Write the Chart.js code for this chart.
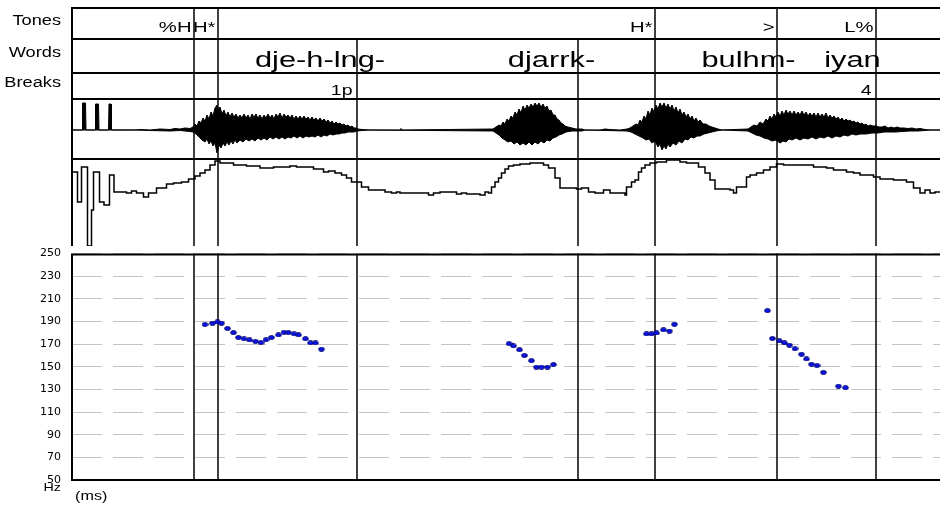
<!DOCTYPE html>
<html><head><meta charset="utf-8">
<script src="https://cdn.jsdelivr.net/npm/chart.js@4.4.1/dist/chart.umd.min.js"></script>
<style>
html,body{margin:0;padding:0;background:#fff;}
#wrap{position:relative;width:940px;height:505px;overflow:hidden;background:#fff;}
canvas{position:absolute;left:0;}
</style></head><body>
<div id="wrap">
<canvas id="cInt" width="940" height="88" style="top:158px;width:940px;height:88px"></canvas>
<canvas id="cWave" width="940" height="60" style="top:98px;width:940px;height:60px"></canvas>
<canvas id="cBreaks" width="940" height="26" style="top:72px;width:940px;height:26px"></canvas>
<canvas id="cWords" width="940" height="34" style="top:38px;width:940px;height:34px"></canvas>
<canvas id="cTones" width="940" height="31" style="top:7px;width:940px;height:31px"></canvas>
<canvas id="cPitch" width="940" height="269" style="top:236px;width:940px;height:269px"></canvas>
</div>
<script>
// ---------- data (time in ms) ----------
const timeMin = 144, timeMax = 1880;
const tierNames = ['Tones', 'Words', 'Breaks'];
const toneTimes = [388, 436, 1310, 1554, 1752];
const toneLabels = ['%H', 'H*', 'H*', '>', 'L%'];
const wordBoundaryTimes = [714, 1156];
const wordTimes = [640, 1103, 1497, 1705];
const wordLabels = ['dje-h-lng-', 'djarrk-', 'bulhm-', 'iyan'];
const breakTimes = [714, 1752];
const breakLabels = ['1p', '4'];
const pitchTicks = [50, 70, 90, 110, 130, 150, 170, 190, 210, 230, 250];

// waveform envelope (amplitude, arbitrary units)
const waveUpper = [[144,0],[164,0],[165,27],[171,27],[172,0],[190,0],[191,26],[197,26],[198,0],[217,0],[218,26],[222,26],[223,0],
[270,0],[280,0.5],[300,0],[320,1],[340,0.5],[350,1.5],[360,1],[370,2],[380,1.5],
[386,3],[390,6],[394,4],[398,9],[402,7],[406,12],[410,9],[414,15],[418,11],[422,18],[426,14],[430,22],[434,25],[436,20],[440,23],[444,16],[448,20],[452,14],[456,18],[460,13],[464,17],[468,13],[472,16],[476,12],[480,15],[484,12],[488,16],[492,12],[496,15],[500,11],[504,16],[508,13],[512,16],[516,12],[520,15],[524,11],[528,15],[532,12],[536,16],[540,12],[544,15],[548,11],[552,16],[556,13],[560,17],[564,12],[568,16],[572,13],[576,15],[580,12],[584,15],[588,11],[592,14],[596,11],[600,14],[604,11],[608,14],[612,11],[616,13],[620,10],[624,13],[628,10],[632,12],[636,9],[640,12],[644,9],[648,11],[652,8],[656,10],[660,7],[664,9],[668,6],[672,8],[676,6],[680,7],[684,5],[688,6],[692,4],[696,5],[700,3],[704,4],[708,2],[712,2],[716,1],[724,0.5],[740,0],
[800,0],[802,1.5],[804,0],
[986,1],[992,3],[998,5],[1002,4],[1006,8],[1010,6],[1014,11],[1018,9],[1022,14],[1026,12],[1030,18],[1034,15],[1038,21],[1042,17],[1046,24],[1050,20],[1054,25],[1058,22],[1062,26],[1066,23],[1070,27],[1074,24],[1078,27],[1082,23],[1086,26],[1090,22],[1094,24],[1098,19],[1102,20],[1106,15],[1110,15],[1114,11],[1118,10],[1122,7],[1126,6],[1130,4],[1136,3],[1144,2],[1152,1],[1164,1],[1170,0],
[1200,0],[1210,1],[1220,0.5],[1240,0],
[1254,1],[1260,2],[1266,4],[1272,6],[1276,5],[1280,10],[1284,8],[1288,14],[1292,11],[1296,19],[1300,15],[1304,22],[1308,18],[1312,25],[1316,21],[1320,27],[1324,23],[1328,27],[1332,22],[1336,26],[1340,21],[1344,25],[1348,19],[1352,23],[1356,17],[1360,21],[1364,15],[1368,18],[1372,13],[1376,16],[1380,11],[1384,14],[1388,9],[1392,12],[1396,8],[1400,10],[1406,6],[1412,6],[1418,4],[1424,3],[1430,2],[1436,1],[1444,0],
[1496,1],[1502,3],[1508,5],[1514,4],[1520,8],[1526,6],[1532,11],[1536,9],[1540,14],[1544,11],[1548,16],[1552,13],[1556,18],[1560,14],[1564,19],[1568,15],[1572,20],[1576,16],[1580,19],[1584,15],[1588,19],[1592,15],[1596,18],[1600,15],[1604,19],[1608,15],[1612,18],[1616,14],[1620,17],[1624,14],[1628,17],[1632,13],[1636,17],[1640,13],[1644,16],[1648,13],[1652,17],[1656,12],[1660,15],[1664,12],[1668,14],[1672,11],[1676,13],[1680,10],[1684,12],[1688,9],[1692,11],[1696,9],[1700,10],[1704,8],[1708,9],[1712,7],[1716,8],[1720,6],[1724,7],[1728,5],[1732,6],[1736,4],[1740,5],[1746,4],[1752,4],[1758,3],[1764,3],[1770,4],[1776,2],[1782,3],[1788,2],[1794,3],[1800,2],[1808,2],[1816,1.5],[1824,2],[1832,1],[1840,1.5],[1850,0.5],[1860,0],[1880,0]];
const waveLower = [[144,0],[270,0],[300,-0.5],[340,-1],[360,-0.5],[380,-1.5],
[386,-2],[392,-4],[398,-7],[404,-10],[410,-12],[414,-9],[418,-14],[422,-11],[426,-16],[430,-13],[434,-23],[438,-15],[442,-18],[446,-13],[450,-16],[454,-12],[458,-15],[462,-11],[466,-14],[470,-10],[474,-13],[480,-10],[486,-12],[492,-9],[498,-11],[504,-9],[510,-11],[516,-8],[522,-10],[528,-8],[534,-10],[540,-7],[546,-9],[552,-7],[558,-9],[564,-7],[570,-9],[576,-7],[582,-8],[588,-6],[594,-8],[600,-6],[606,-8],[612,-6],[618,-7],[624,-6],[630,-7],[636,-5],[642,-7],[648,-5],[654,-6],[660,-4],[666,-5],[672,-4],[678,-4],[684,-3],[690,-3],[696,-2],[702,-2],[708,-2],[714,-1],[724,-0.5],[740,0],
[986,-1],[992,-3],[998,-5],[1004,-8],[1010,-10],[1016,-12],[1022,-11],[1028,-14],[1034,-12],[1040,-15],[1046,-13],[1052,-15],[1058,-12],[1064,-15],[1070,-12],[1076,-14],[1082,-11],[1088,-13],[1094,-10],[1100,-11],[1106,-8],[1112,-7],[1118,-5],[1124,-4],[1132,-2],[1144,-1],[1164,-1],[1170,0],
[1254,-1],[1262,-2],[1270,-4],[1278,-6],[1286,-8],[1292,-10],[1298,-9],[1304,-13],[1310,-11],[1316,-17],[1320,-14],[1324,-20],[1328,-16],[1332,-19],[1336,-14],[1340,-17],[1346,-13],[1352,-15],[1358,-11],[1364,-13],[1370,-9],[1376,-10],[1382,-7],[1388,-8],[1394,-6],[1400,-6],[1408,-4],[1416,-3],[1424,-2],[1432,-1],[1444,0],
[1496,-1],[1504,-3],[1512,-5],[1520,-6],[1528,-8],[1536,-9],[1544,-11],[1552,-10],[1560,-13],[1566,-11],[1572,-12],[1578,-9],[1584,-10],[1592,-8],[1600,-10],[1608,-8],[1616,-9],[1624,-7],[1632,-9],[1640,-7],[1648,-8],[1656,-6],[1664,-8],[1672,-6],[1680,-7],[1688,-5],[1696,-6],[1704,-4],[1712,-5],[1720,-4],[1732,-4],[1744,-3],[1756,-3],[1768,-2],[1780,-2],[1792,-2],[1804,-1.5],[1820,-1],[1836,-1],[1850,-0.5],[1860,0],[1880,0]];

// intensity contour (relative dB)
const intensity = [[144,74],[155,44],[163,79],[175,0],[183,36],[187,74],[199,44],[208,41],[219,71],[228,54],[253,53],[263,55],[273,53],[287,49],[297,53],[313,58],[333,62],[347,63],[363,64],[377,67],[390,70],[400,73],[410,76],[420,81],[430,85],[440,83],[467,81],[493,80],[520,78],[547,79],[580,80],[593,79],[627,77],[647,74],[657,75],[670,73],[683,71],[693,68],[703,64],[723,59],[737,56],[770,54],[783,53],[793,54],[800,53],[813,53],[827,53],[857,51],[867,53],[880,54],[913,52],[923,53],[933,52],[960,51],[970,54],[977,53],[983,59],[990,64],[997,68],[1003,73],[1010,77],[1017,80],[1027,81],[1040,82],[1060,83],[1087,81],[1097,78],[1110,68],[1120,58],[1153,57],[1163,58],[1177,54],[1190,53],[1207,56],[1220,53],[1250,51],[1253,59],[1263,64],[1270,66],[1277,74],[1283,78],[1290,81],[1300,83],[1313,84],[1333,86],[1360,84],[1373,83],[1397,79],[1410,73],[1420,66],[1430,57],[1460,56],[1467,53],[1473,59],[1493,69],[1500,71],[1513,73],[1527,76],[1540,79],[1553,82],[1567,81],[1627,79],[1640,79],[1653,78],[1667,76],[1693,74],[1707,73],[1720,71],[1747,69],[1760,67],[1787,66],[1813,64],[1827,58],[1840,53],[1850,56],[1860,53],[1870,54],[1880,54]];

// F0 (Hz)
const pitchHz = [[410,187.4],[425,188.5],[435,189.6],[443,188.5],[455,183.9],[467,180.2],[477,175.9],[488,174.8],[499,173.7],[511,172.5],[522,171.4],[532,173.9],[543,175.9],[557,178.2],[568,180.5],[577,180.2],[588,179.1],[597,178.2],[611,174.8],[621,171.1],[631,171.1],[643,165.6],
[1018,170.5],[1027,168.5],[1039,165.1],[1049,160.0],[1063,155.4],[1073,149.7],[1083,149.7],[1095,149.7],[1107,152.0],
[1293,179.1],[1303,179.1],[1313,179.9],[1327,182.7],[1339,181.6],[1349,187.6],
[1535,199.6],[1545,175.0],[1559,172.8],[1569,171.1],[1579,169.1],[1590,166.0],[1603,161.1],[1613,156.9],[1623,152.3],[1634,151.1],[1647,145.1],[1677,132.9],[1691,131.5]];

// ---------- rendering ----------
const FONT = '"Liberation Sans", Arial, sans-serif';
function sText(ctx, text, x, y, align, size, sx) {
  ctx.save();
  ctx.font = size + 'px ' + FONT;
  ctx.fillStyle = '#000';
  ctx.textBaseline = 'alphabetic';
  ctx.textAlign = 'left';
  const w = ctx.measureText(text).width * sx;
  const x0 = align === 'right' ? x - w : (align === 'center' ? x - w / 2 : x);
  ctx.translate(x0, y);
  ctx.scale(sx, 1);
  ctx.fillText(text, 0, 0);
  ctx.restore();
}
function framePlugin(verticals, bottom, drawText) {
  return {
    id: 'frame',
    beforeDatasetsDraw(chart) {
      const {ctx, chartArea: a, scales: {x}} = chart;
      ctx.save();
      ctx.strokeStyle = '#111';
      ctx.lineWidth = 1.6;
      verticals.forEach(t => {
        const px = Math.round(x.getPixelForValue(t));
        ctx.beginPath(); ctx.moveTo(px, a.top); ctx.lineTo(px, bottom ? a.bottom + 1 : a.bottom); ctx.stroke();
      });
      ctx.restore();
    },
    afterDatasetsDraw(chart) {
      const {ctx, chartArea: a} = chart;
      ctx.save();
      ctx.strokeStyle = '#000';
      ctx.lineWidth = 2;
      ctx.beginPath();
      ctx.moveTo(a.left - 1, a.top + 1); ctx.lineTo(a.right, a.top + 1);
      ctx.moveTo(a.left, a.top); ctx.lineTo(a.left, bottom ? a.bottom + 1 : a.bottom);
      if (bottom) { ctx.moveTo(a.left - 1, a.bottom); ctx.lineTo(a.right, a.bottom); }
      ctx.stroke();
      ctx.restore();
    },
    afterDraw(chart) { if (drawText) drawText(chart); }
  };
}
function baseOptions(yOpts, padding) {
  return {
    responsive: false, animation: false, devicePixelRatio: 1, events: [],
    layout: { autoPadding: false, padding: padding || { left: 72, right: 0, top: 0, bottom: 0 } },
    plugins: { legend: { display: false }, tooltip: { enabled: false } },
    scales: { x: { type: 'linear', min: timeMin, max: timeMax, display: false }, y: yOpts }
  };
}
const allBounds = toneTimes.concat(wordBoundaryTimes);
const hiddenY = (min, max) => ({ type: 'linear', min, max, display: false });

// Tones tier
new Chart(document.getElementById('cTones'), {
  type: 'line', data: { datasets: [] },
  options: baseOptions(hiddenY(0, 1)),
  plugins: [framePlugin(toneTimes, false, chart => {
    const {ctx, scales: {x}} = chart;
    sText(ctx, tierNames[0], 61, 18, 'right', 14, 1.3);
    toneLabels.forEach((l, i) => sText(ctx, l, x.getPixelForValue(toneTimes[i]) - 2.5, 25, 'right', 15, 1.35));
  })]
});
// Words tier
new Chart(document.getElementById('cWords'), {
  type: 'line', data: { datasets: [] },
  options: baseOptions(hiddenY(0, 1)),
  plugins: [framePlugin(allBounds, false, chart => {
    const {ctx, scales: {x}} = chart;
    sText(ctx, tierNames[1], 61, 19, 'right', 14, 1.3);
    wordLabels.forEach((l, i) => sText(ctx, l, x.getPixelForValue(wordTimes[i]), 29, 'center', 22, 1.4));
  })]
});
// Breaks tier
new Chart(document.getElementById('cBreaks'), {
  type: 'line', data: { datasets: [] },
  options: baseOptions(hiddenY(0, 1)),
  plugins: [framePlugin(allBounds, false, chart => {
    const {ctx, scales: {x}} = chart;
    sText(ctx, tierNames[2], 61, 15, 'right', 14, 1.3);
    breakLabels.forEach((l, i) => sText(ctx, l, x.getPixelForValue(breakTimes[i]) - 4.5, 23, 'right', 15, 1.3));
  })]
});
// Waveform
new Chart(document.getElementById('cWave'), {
  type: 'line',
  data: { datasets: [
    { data: waveUpper, borderColor: '#000', backgroundColor: '#000', borderWidth: 1, pointRadius: 0, tension: 0, fill: 'origin' },
    { data: waveLower, borderColor: '#000', backgroundColor: '#000', borderWidth: 1, pointRadius: 0, tension: 0, fill: 'origin' }
  ] },
  options: baseOptions(hiddenY(-28, 32)),
  plugins: [framePlugin(allBounds, false, null)]
});
// Intensity
new Chart(document.getElementById('cInt'), {
  type: 'line',
  data: { datasets: [
    { data: intensity, borderColor: '#000', borderWidth: 1.5, pointRadius: 0, stepped: true, fill: false }
  ] },
  options: baseOptions(hiddenY(0, 88)),
  plugins: [framePlugin(allBounds, false, null)]
});
// Pitch
const dot = document.createElement('canvas');
dot.width = 7; dot.height = 5;
(function () {
  const d = dot.getContext('2d');
  d.beginPath(); d.ellipse(3.5, 2.5, 2.9, 2, 0, 0, Math.PI * 2);
  d.fillStyle = '#0a14e8'; d.fill();
  d.lineWidth = 0.8; d.strokeStyle = '#000060'; d.stroke();
})();
const pitchY = {
  type: 'linear', min: 50, max: 250,
  afterBuildTicks: s => { s.ticks = pitchTicks.map(v => ({ value: v })); },
  afterFit: s => { s.width = 72; },
  ticks: { color: '#000', padding: 11, font: { family: '"DejaVu Sans", sans-serif', size: 11 } },
  grid: { color: '#c4c4c4', lineWidth: 1, drawTicks: false },
  border: { display: false, dash: [30, 11] }
};
new Chart(document.getElementById('cPitch'), {
  type: 'scatter',
  data: { datasets: [
    { data: pitchHz, pointStyle: dot, pointRadius: 3, showLine: false }
  ] },
  options: baseOptions(pitchY, { left: 0, right: 0, top: 10, bottom: 25 }),
  plugins: [framePlugin(allBounds, true, chart => {
    const {ctx} = chart;
    sText(ctx, 'Hz', 61, 255, 'right', 11, 1.3);
    sText(ctx, '(ms)', 75, 264, 'left', 12, 1.35);
  })]
});
</script>
</body></html>
